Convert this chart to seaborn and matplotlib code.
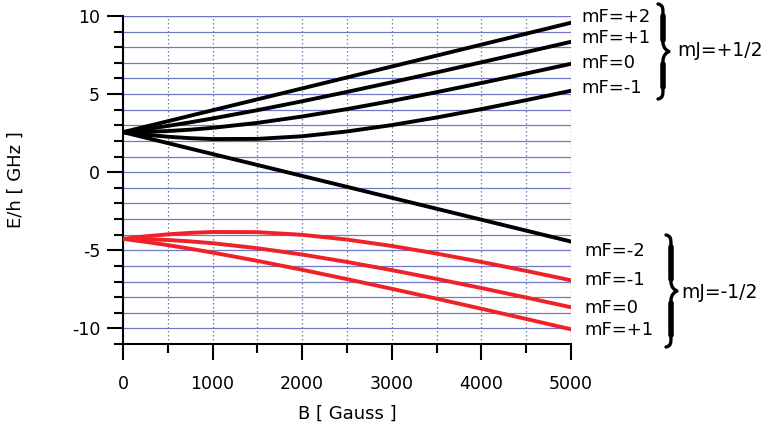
import numpy as np
import pandas as pd
import matplotlib
matplotlib.use("Agg")
import matplotlib.pyplot as plt
from matplotlib.path import Path
from matplotlib.patches import PathPatch
from matplotlib.ticker import MultipleLocator
import seaborn as sns

# ---- data ----
B = [0, 250, 500, 750, 1000, 1500, 2000, 2500, 3000, 3500, 4000, 4500, 5000]

up_p2 = [2.563, 2.913, 3.263, 3.614, 3.964, 4.664, 5.365, 6.065, 6.766, 7.466, 8.167, 8.867, 9.568]
up_p1 = [2.563, 2.751, 2.962, 3.192, 3.439, 3.970, 4.541, 5.139, 5.757, 6.390, 7.035, 7.688, 8.348]
up_0 = [2.563, 2.581, 2.634, 2.721, 2.839, 3.158, 3.565, 4.039, 4.563, 5.123, 5.710, 6.317, 6.940]
up_m1 = [2.563, 2.402, 2.272, 2.177, 2.121, 2.131, 2.301, 2.607, 3.016, 3.501, 4.038, 4.612, 5.213]
up_m2 = [2.563, 2.213, 1.863, 1.512, 1.162, 0.462, -0.239, -0.939, -1.640, -2.340, -3.041, -3.741, -4.442]

lo_m1 = [-4.271, -4.110, -3.980, -3.885, -3.829, -3.839, -4.009, -4.315, -4.724, -5.209, -5.746, -6.320, -6.921]
lo_0 = [-4.271, -4.289, -4.342, -4.429, -4.547, -4.866, -5.273, -5.747, -6.271, -6.831, -7.418, -8.025, -8.648]
lo_p1 = [-4.271, -4.459, -4.670, -4.900, -5.147, -5.678, -6.249, -6.847, -7.465, -8.098, -8.743, -9.396, -10.056]

upper_labels = ["mF=+2", "mF=+1", "mF=0", "mF=-1"]
upper_label_y = [9.96, 8.59, 6.99, 5.38]
lower_labels = ["mF=-2", "mF=-1", "mF=0", "mF=+1"]
lower_label_y = [-5.06, -6.90, -8.67, -10.13]

xticks = [0, 1000, 2000, 3000, 4000, 5000]
yticks = [-10, -5, 0, 5, 10]

black_series = {"up_p2": up_p2, "up_p1": up_p1, "up_0": up_0, "up_m1": up_m1, "up_m2": up_m2}
red_series = {"lo_m1": lo_m1, "lo_0": lo_0, "lo_p1": lo_p1}

rows = []
for name, vals in black_series.items():
    for b, v in zip(B, vals):
        rows.append((b, v, name, "black"))
for name, vals in red_series.items():
    for b, v in zip(B, vals):
        rows.append((b, v, name, "red"))
df = pd.DataFrame(rows, columns=["B", "E", "curve", "group"])

# ---- figure ----
W, H = 770, 437
plt.rcParams['font.family'] = ['DejaVu Sans']
plt.rcParams['axes.unicode_minus'] = False
fig = plt.figure(figsize=(W / 100, H / 100), dpi=100)
ax = fig.add_axes([123 / W, 1 - 344 / H, 448 / W, 328 / H])

grid_blue = "#7078c4"
red = "#ee2228"

sns.lineplot(data=df[df.group == "black"], x="B", y="E", units="curve", estimator=None,
             color="black", lw=2.8, ax=ax, zorder=5)
sns.lineplot(data=df[df.group == "red"], x="B", y="E", units="curve", estimator=None,
             color=red, lw=2.8, ax=ax, zorder=5)

ax.set_xlim(0, 5000)
ax.set_ylim(-11, 10)
ax.set_xticks(xticks)
ax.set_yticks(yticks)
ax.xaxis.set_minor_locator(MultipleLocator(500))
ax.yaxis.set_minor_locator(MultipleLocator(1))
ax.tick_params(axis="both", which="major", direction="out", length=11.5, width=1.5,
               labelsize=12.5, colors="black")
ax.tick_params(axis="both", which="minor", direction="out", length=6.5, width=1.5)
ax.tick_params(axis="y", which="major", pad=5)
ax.tick_params(axis="x", which="major", pad=11)

ax.grid(which="both", axis="y", color=grid_blue, lw=0.9, ls="-", zorder=0)
ax.grid(which="both", axis="x", color=grid_blue, lw=0.9, ls=(0, (1.2, 2.0)), zorder=0)
ax.axhline(10, color=grid_blue, lw=0.9, zorder=0)
ax.axvline(5000, color=grid_blue, lw=0.9, ls=(0, (1.2, 2.0)), zorder=0)

for s in ["top", "right"]:
    ax.spines[s].set_visible(False)
for s in ["left", "bottom"]:
    ax.spines[s].set_linewidth(1.5)
    ax.spines[s].set_color("black")

ax.set_xlabel("B [ Gauss ]", fontsize=13)
ax.set_ylabel("E/h [ GHz ]", fontsize=13)
ax.xaxis.set_label_coords(0.5, -0.185)
ax.yaxis.set_label_coords(-0.22, 0.5)

for lab, y in zip(upper_labels, upper_label_y):
    ax.text(5115, y, lab, fontsize=13, va="center", ha="left", clip_on=False)
for lab, y in zip(lower_labels, lower_label_y):
    ax.text(5150, y, lab, fontsize=13, va="center", ha="left", clip_on=False)

# ---- braces overlay (pixel coordinates) ----
ov = fig.add_axes([0, 0, 1, 1], facecolor="none")
ov.set_xlim(0, W)
ov.set_ylim(H, 0)
ov.axis("off")


def brace(x0, y0, y1, w, r):
    ym = (y0 + y1) / 2
    xm = x0 + w * 0.45
    xt = x0 + w
    verts = [(x0, y0),
             (xm, y0 + 1), (xm, y0 + r * 0.4), (xm, y0 + r),
             (xm, ym - r),
             (xm, ym - r * 0.3), (xt - 2, ym - 1), (xt, ym),
             (xt - 2, ym + 1), (xm, ym + r * 0.3), (xm, ym + r),
             (xm, y1 - r),
             (xm, y1 - r * 0.4), (xm, y1 - 1), (x0, y1)]
    codes = [Path.MOVETO,
             Path.CURVE4, Path.CURVE4, Path.CURVE4,
             Path.LINETO,
             Path.CURVE4, Path.CURVE4, Path.CURVE4,
             Path.CURVE4, Path.CURVE4, Path.CURVE4,
             Path.LINETO,
             Path.CURVE4, Path.CURVE4, Path.CURVE4]
    ov.add_patch(PathPatch(Path(verts, codes), fill=False, lw=2.4, color="black",
                           capstyle="round", joinstyle="round"))
    # thicker straight parts to imitate the tapered glyph
    ov.plot([xm, xm], [y0 + r + 2, ym - r - 2], color="black", lw=4.0,
            solid_capstyle="round")
    ov.plot([xm, xm], [ym + r + 2, y1 - r - 2], color="black", lw=4.0,
            solid_capstyle="round")


brace(658, 4, 99, 11, 10)
brace(666, 235, 347, 11, 10)
ov.text(677, 50, "mJ=+1/2", fontsize=13.5, va="center", ha="left")
ov.text(681, 292, "mJ=-1/2", fontsize=13.5, va="center", ha="left")

fig.savefig("out.png", dpi=100)
